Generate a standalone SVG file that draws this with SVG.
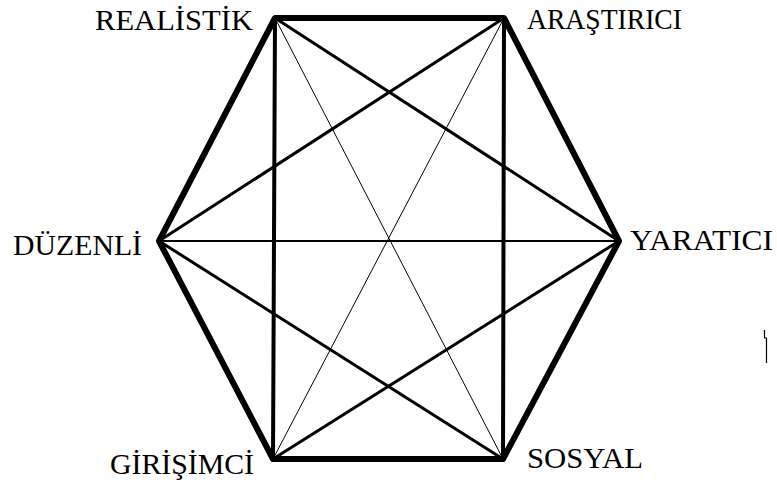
<svg xmlns="http://www.w3.org/2000/svg" width="777" height="486" viewBox="0 0 777 486">
<style>
.l{stroke:#000;stroke-linecap:round;stroke-linejoin:round;fill:none}
.t{font-family:"Liberation Serif","DejaVu Serif",serif;font-size:29px;fill:#000}
</style>
<rect width="777" height="486" fill="#fff"/>
<g id="connectors">
<line class="l" x1="275" y1="18" x2="503" y2="459" stroke-width="1"/>
<line class="l" x1="504" y1="18" x2="273" y2="459" stroke-width="1"/>
<line class="l" x1="159" y1="241" x2="619" y2="241" stroke-width="2"/>
<line class="l" x1="275" y1="18" x2="619" y2="241" stroke-width="3"/>
<line class="l" x1="504" y1="18" x2="159" y2="241" stroke-width="3"/>
<line class="l" x1="159" y1="241" x2="503" y2="459" stroke-width="3"/>
<line class="l" x1="273" y1="459" x2="619" y2="241" stroke-width="3"/>
<line class="l" x1="275" y1="18" x2="273" y2="459" stroke-width="4"/>
<line class="l" x1="504" y1="18" x2="503" y2="459" stroke-width="4"/>
<polygon class="l" points="275,18 504,18 619,241 503,459 273,459 159,241" stroke-width="6"/>
</g>
<g id="realistik"><text class="t" x="95" y="30" textLength="158" lengthAdjust="spacingAndGlyphs">REALİSTİK</text></g>
<g id="arastirici"><text class="t" x="527" y="29" textLength="155" lengthAdjust="spacingAndGlyphs">ARAŞTIRICI</text></g>
<g id="duzenli"><text class="t" x="13" y="255" textLength="129" lengthAdjust="spacingAndGlyphs">DÜZENLİ</text></g>
<g id="yaratici"><text class="t" x="630" y="250" textLength="143" lengthAdjust="spacingAndGlyphs">YARATICI</text></g>
<g id="girisimci"><text class="t" x="110" y="474" textLength="144" lengthAdjust="spacingAndGlyphs">GİRİŞİMCİ</text></g>
<g id="sosyal"><text class="t" x="527" y="468" textLength="116" lengthAdjust="spacingAndGlyphs">SOSYAL</text></g>
<path d="M764.5,330 V338 H766.5 V363" stroke="#000" stroke-width="1.2" fill="none"/>
</svg>
